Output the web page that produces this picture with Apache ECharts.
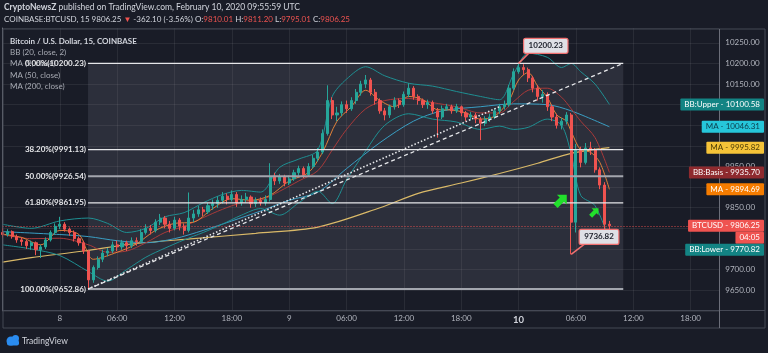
<!DOCTYPE html>
<html><head><meta charset="utf-8">
<script src="https://cdn.jsdelivr.net/npm/echarts@6/dist/echarts.min.js"></script>
<style>html,body{margin:0;padding:0;background:#191c27;}#c{width:768px;height:353px;}</style>
</head><body><div id="c"></div><script>
// ---------- DATA ----------
// 30-minute candles, [open, close, low, high]; slot 0 = Feb 7 18:00
const candles = [
[9790,9785,9778,9800],[9785,9792,9780,9798],[9792,9780,9775,9795],[9780,9772,9765,9785],[9772,9768,9758,9778],
[9768,9758,9750,9772],[9758,9765,9748,9770],[9765,9748,9735,9768],[9748,9755,9728,9760],[9755,9772,9750,9778],
[9772,9790,9768,9795],[9790,9805,9785,9812],[9805,9810,9798,9828],[9810,9798,9792,9815],[9798,9790,9782,9802],
[9790,9775,9768,9795],[9775,9765,9758,9780],[9765,9745,9738,9770],[9745,9675,9652.86,9748],[9675,9705,9668,9710],
[9705,9725,9700,9732],[9725,9740,9718,9748],[9740,9745,9732,9752],[9745,9760,9740,9768],[9760,9755,9745,9770],
[9755,9765,9748,9772],[9765,9758,9745,9770],[9758,9770,9752,9778],[9770,9768,9758,9778],[9768,9790,9765,9798],
[9790,9800,9785,9810],[9800,9795,9785,9808],[9795,9815,9790,9822],[9815,9825,9808,9835],[9825,9810,9800,9830],
[9810,9800,9790,9818],[9800,9820,9795,9828],[9820,9805,9795,9825],[9805,9795,9785,9812],[9795,9825,9790,9887],
[9825,9835,9815,9845],[9835,9845,9828,9855],[9845,9840,9830,9852],[9840,9855,9835,9862],[9855,9860,9845,9870],
[9860,9868,9850,9878],[9868,9878,9860,9888],[9878,9870,9858,9885],[9870,9882,9865,9892],[9882,9862,9852,9888],
[9862,9870,9855,9880],[9870,9876,9862,9886],[9876,9860,9850,9880],[9860,9868,9852,9875],[9868,9862,9855,9875],
[9862,9870,9855,9880],[9870,9925,9865,9958],[9925,9915,9905,9935],[9915,9925,9908,9932],[9925,9910,9902,9930],
[9910,9920,9905,9928],[9920,9935,9915,9942],[9935,9945,9928,9952],[9945,9930,9922,9950],[9930,9950,9925,9958],
[9950,9970,9945,9978],[9970,9985,9962,9995],[9985,10030,9980,10040],[10030,10110,10025,10147],[10110,10075,10065,10118],
[10075,10080,10060,10095],[10080,10100,10072,10108],[10100,10090,10080,10110],[10090,10110,10085,10118],[10110,10130,10102,10138],
[10130,10150,10122,10158],[10150,10160,10140,10172],[10160,10130,10122,10165],[10130,10110,10100,10138],[10110,10085,10078,10115],
[10085,10075,10062,10092],[10075,10095,10068,10100],[10095,10110,10088,10118],[10110,10100,10092,10115],[10100,10125,10095,10132],
[10125,10140,10118,10152],[10140,10120,10112,10145],[10120,10110,10100,10125],[10110,10100,10092,10115],[10100,10105,10090,10112],
[10105,10085,10078,10110],[10085,10070,10020,10092],[10070,10090,10065,10098],[10090,10095,10085,10102],[10095,10085,10078,10100],
[10085,10095,10080,10102],[10095,10080,10072,10098],[10080,10070,10060,10085],[10070,10075,10062,10082],[10075,10065,10055,10080],
[10065,10055,10014,10070],[10055,10065,10048,10072],[10065,10070,10058,10078],[10070,10085,10065,10092],[10085,10095,10078,10102],
[10095,10100,10088,10110],[10100,10140,10095,10148],[10140,10180,10135,10188],[10180,10190,10175,10200.23],[10190,10185,10172,10198],
[10185,10165,10155,10190],[10165,10140,10130,10170],[10140,10120,10110,10148],[10120,10125,10105,10135],[10125,10095,10085,10130],
[10095,10070,10060,10100],[10070,10050,10042,10078],[10050,10060,10040,10068],[10060,10075,10052,10082],[10075,9815,9736.82,10080],
[9815,9990,9790,10005],[9990,9960,9948,9998],[9960,9995,9955,10007],[9995,9990,9978,10010],[9990,9942,9935,9995],
[9942,9905,9895,9948],[9905,9810,9790,9912],[9810,9806.25,9795.01,9818]
];
// indicator readings [slot, value]
const bbUpper = [[0,9810],[6,9800],[12,9818],[18,9825],[22,9812],[26,9790],[30,9800],[34,9828],[38,9838],[42,9862],[46,9882],[50,9892],[54,9888],[58,9948],[62,9968],[66,9990],[69,10120],[72,10162],[76,10192],[80,10170],[85,10152],[90,10145],[95,10132],[100,10120],[104,10112],[107,10175],[110,10225],[114,10215],[117,10190],[119,10200],[121,10180],[124,10150],[127,10100.58]];
const bbBasis = [[0,9785],[6,9775],[12,9776],[18,9760],[22,9742],[26,9745],[30,9765],[34,9790],[38,9805],[42,9826],[46,9846],[50,9862],[54,9868],[58,9890],[62,9915],[66,9940],[69,9990],[72,10040],[76,10090],[80,10110],[85,10115],[90,10105],[95,10095],[100,10080],[104,10080],[107,10108],[110,10135],[114,10140],[117,10118],[119,10090],[121,10060],[124,10020],[127,9935.70]];
const bbLower = [[0,9760],[6,9750],[12,9734],[18,9695],[22,9672],[26,9700],[30,9730],[34,9752],[38,9772],[42,9790],[46,9810],[50,9832],[54,9848],[58,9832],[62,9862],[66,9890],[69,9860],[72,9918],[76,9988],[80,10050],[85,10078],[90,10065],[95,10058],[100,10040],[104,10048],[107,10040],[110,10045],[114,10065],[117,10050],[119,9980],[121,9880],[124,9855],[127,9770.82]];
const maFast = [[0,9786],[4,9778],[8,9760],[12,9795],[16,9785],[19,9725],[24,9742],[28,9762],[32,9795],[36,9812],[40,9815],[44,9848],[48,9872],[52,9868],[56,9880],[60,9915],[64,9935],[67,9985],[70,10060],[73,10095],[76,10135],[79,10110],[82,10095],[85,10120],[88,10112],[91,10088],[94,10087],[97,10080],[100,10065],[103,10072],[106,10110],[108,10160],[110,10178],[112,10145],[114,10118],[116,10075],[118,10060],[119,10035],[121,9990],[123,9985],[125,9960],[127,9894.69]];
const ma50 = [[0,9792],[12,9785],[18,9780],[24,9770],[30,9765],[36,9775],[42,9795],[48,9818],[54,9842],[60,9868],[66,9888],[72,9945],[79,10008],[86,10060],[92,10085],[100,10095],[107,10102],[114,10100],[119,10085],[127,10046.31]];
const ma200 = [[0,9718],[6,9729],[17,9745],[27,9762],[40,9775],[53,9788],[66,9803],[79,9850],[87,9885],[96,9910],[104,9933],[112,9958],[119,9982],[127,9995.82]];
const fibLevels = [['0.00%',10200.23],['38.20%',9991.13],['50.00%',9926.54],['61.80%',9861.95],['100.00%',9652.86]];
const fibSpan = [17.9, 129.9];
const trendDotted = [[17.9,9652.86],[104,10095]];
const trendDashed = [[17.9,9652.86],[129.9,10200.23]];
const highMark = [108, 10200.23];
const lowMark = [119, 9736.82];
const arrowMarks = [[116.9, 9868, 1], [123.9, 9839, 0.7]];
const tickLabels = ['8','06:00','12:00','18:00','9','06:00','12:00','18:00','10','06:00','12:00','18:00'];
const boldLabels = ['10'];
const slotCount = 151;
const lastPrice = 9806.25;
const priceTags = [
  {text:'BB:Upper - 10100.58', value:10100.58, bg:'#138484', fg:'#ffffff'},
  {text:'MA - 10046.31', value:10046.31, bg:'#26c6da', fg:'#0c3b4a'},
  {text:'MA - 9995.82', value:9995.82, bg:'#f5c338', fg:'#4a3a05'},
  {text:'BB:Basis - 9935.70', value:9935.70, bg:'#8e2a2e', fg:'#ffffff'},
  {text:'MA - 9894.69', value:9894.69, bg:'#f57c00', fg:'#ffffff'},
  {text:'BTCUSD - 9806.25', value:9806.25, bg:'#ef5350', fg:'#ffffff', sub:'04:05'},
  {text:'BB:Lower - 9770.82', value:9770.82, bg:'#138484', fg:'#ffffff'}
];
const legendLines = ['Bitcoin / U.S. Dollar, 15, COINBASE','BB (20, close, 2)','MA (9, close)','MA (50, close)','MA (200, close)'];

// ---------- CHART ----------
const FONT = 'Lato, "Open Sans", sans-serif';
const TXT = '#d1d4dc';
const cats = [];
for (let i = 0; i < slotCount; i++) cats.push(String(i));
const isTick = (idx) => idx >= 12 && idx % 12 === 0 && (idx - 12) / 12 < tickLabels.length;

const chart = echarts.init(document.getElementById('c'));
const lineS = (data, color, width, z, extra) => Object.assign({
  type:'line', xAxisIndex:1, yAxisIndex:0, data, showSymbol:false, symbol:'none', smooth:0.3,
  lineStyle:{color, width}, z, silent:true, animation:false
}, extra || {});

const series = [
  {type:'candlestick', xAxisIndex:0, yAxisIndex:0, data:candles, barWidth:2.6, z:5,
   itemStyle:{color:'#26a69a', color0:'#ef5350', borderColor:'#26a69a', borderColor0:'#ef5350', borderWidth:1},
   markLine:{symbol:'none', silent:true, label:{show:false}, animation:false,
     lineStyle:{color:'#ef5350', type:[1,2], width:1, opacity:0.9}, data:[{yAxis:lastPrice}]}},
  lineS(ma200, '#d9b968', 1.2, 3),
  lineS(ma50, '#3a9fc4', 1, 3),
  lineS(bbUpper, '#1f8f92', 1, 3),
  lineS(bbLower, '#1f8f92', 1, 3),
  lineS(bbBasis, '#a83a3a', 1, 3),
  lineS(maFast, '#e0813a', 1, 4),
];
fibLevels.forEach((f, k) => {
  const gray = (f[0] === '50.00%' || f[0] === '100.00%');
  const s = lineS([[fibSpan[0], f[1]], [fibSpan[1], f[1]]], gray ? '#a3a6ae' : '#e6e7ea', gray ? 2 : 1.3, 6, {smooth:false});
  if (k === 0) {
    s.markArea = {silent:true, itemStyle:{color:'rgba(140,144,158,0.17)'},
      data:[[{coord:[fibSpan[0], fibLevels[4][1]]},{coord:[fibSpan[1], fibLevels[0][1]]}]]};
    s.z = 6;
  }
  series.push(s);
});
series.push(lineS(trendDashed, '#e6e7ea', 1.3, 7, {smooth:false, lineStyle:{color:'#e6e7ea', width:1.3, type:[4,3]}}));
series.push(lineS(trendDotted, '#e6e7ea', 1.6, 7, {smooth:false, lineStyle:{color:'#e6e7ea', width:1.6, type:[1.5,2]}}));

chart.setOption({
  animation:false,
  backgroundColor:'#191c27',
  grid:{left:2.5, top:28, width:716.8, height:282.8, containLabel:false},
  xAxis:[
    {type:'category', data:cats, boundaryGap:false,
     axisLine:{show:false}, axisTick:{show:false},
     axisLabel:{interval:(i)=>isTick(i), color:'#b2b5be', fontSize:8, fontFamily:FONT, margin:4,
       formatter:(v)=>{ const idx = Number(v); const t = tickLabels[(idx-12)/12]; return boldLabels.includes(t) ? '{d|'+t+'}' : t; },
       rich:{d:{fontSize:9.5, fontWeight:'bold', color:'#d1d4dc', fontFamily:FONT}}},
     splitLine:{show:true, interval:(i)=>isTick(i), lineStyle:{color:'rgba(255,255,255,0.07)', width:1}}},
    {type:'value', min:0, max:slotCount-1, show:false}
  ],
  yAxis:[{type:'value', position:'right', min:9600, max:10286, interval:50, scale:false,
    axisLine:{show:true, lineStyle:{color:'#6b6e79'}}, axisTick:{show:false},
    axisLabel:{color:'#b2b5be', fontSize:8, fontFamily:FONT, margin:6, showMinLabel:false, showMaxLabel:false,
      formatter:(v)=>v.toFixed(2)},
    splitLine:{lineStyle:{color:'rgba(255,255,255,0.07)'}}}],
  series
});

// ---------- ANNOTATIONS (positioned through the chart's own scales) ----------
const px = (x, v) => chart.convertToPixel({xAxisIndex:1, yAxisIndex:0}, [x, v]);
const mctx = document.createElement('canvas').getContext('2d');
const tw = (t, f) => { mctx.font = f; return mctx.measureText(t).width; };
const g = [];
const F8 = '8px ' + FONT;
const F8B = 'bold 8px ' + FONT;

// frame
g.push({type:'rect', shape:{x:3, y:29, width:762, height:299}, style:{fill:null, stroke:'#454955', lineWidth:1}, z:50});
g.push({type:'line', shape:{x1:3, y1:310.5, x2:765, y2:310.5}, style:{stroke:'#454955', lineWidth:1}, z:50});
g.push({type:'line', shape:{x1:719.5, y1:29, x2:719.5, y2:328}, style:{stroke:'#6b6e79', lineWidth:1}, z:50});

// header
g.push({type:'text', x:4, y:7, style:{text:'{b|CryptoNewsZ} {w|published on TradingView.com, February 10, 2020 09:55:59 UTC}',
  textVerticalAlign:'middle', font:'8.5px '+FONT,
  rich:{b:{fill:TXT, font:'bold 8.5px '+FONT}, w:{fill:TXT, font:'8.5px '+FONT}}}, z:60});
g.push({type:'text', x:4, y:19, style:{text:'{w|COINBASE:BTCUSD, 15 9806.25 }{r|▼}{w| -362.10 (-3.56%) O:}{r|9810.01}{w| H:}{r|9811.20}{w| L:}{r|9795.01}{w| C:}{r|9806.25}',
  textVerticalAlign:'middle', font:'8px '+FONT,
  rich:{w:{fill:TXT, font:'8px '+FONT}, r:{fill:'#ef5350', font:'8px '+FONT}}}, z:60});

// pane legend
legendLines.forEach((t, k) => {
  g.push({type:'text', x:10, y:41 + k*11.4, style:{text:t, fill: k===0 ? '#d1d4dc' : '#a9acb5', font:(k===0?'bold ':'')+'8px '+FONT, textVerticalAlign:'middle'}, z:60});
});

// fib labels
fibLevels.forEach((f) => {
  const p = px(fibSpan[0], f[1]);
  g.push({type:'text', x:p[0]-2, y:p[1], style:{text:f[0]+'('+f[1].toFixed(2)+')', fill:'#e6e7ea', font:F8B, textAlign:'right', textVerticalAlign:'middle'}, z:61});
});

// callouts
function callout(pt, dx, dy, label) {
  const p = px(pt[0], pt[1]);
  const w = tw(label, F8B) + 10, h = 15;
  const bx = p[0] + dx, by = p[1] + dy;
  g.push({type:'line', shape:{x1:p[0], y1:p[1], x2:bx+5, y2:by+h}, style:{stroke:'#f07070', lineWidth:1.5}, z:62});
  g.push({type:'rect', shape:{x:bx, y:by, width:w, height:h, r:2}, style:{fill:'#dfe0e6', stroke:'#f07070', lineWidth:1.2}, z:62});
  g.push({type:'text', x:bx+w/2, y:by+h/2, style:{text:label, fill:'#1c1f2a', font:F8B, textAlign:'center', textVerticalAlign:'middle'}, z:63});
}
callout(highMark, 5, -25, highMark[1].toFixed(2));
callout(lowMark, 8, -25, lowMark[1].toFixed(2));

// green arrows
arrowMarks.forEach(a => {
  const p = px(a[0], a[1]);
  const s = a[2];
  const pts = [[0,-8],[7,-1],[3,-1],[3,8],[-3,8],[-3,-1],[-7,-1]].map(q => [q[0]*s, q[1]*s]);
  g.push({type:'polygon', x:p[0], y:p[1], rotation:-Math.PI/4, shape:{points:pts}, style:{fill:'#22e02c'}, z:64});
});

// price tags
let lastBottom = -1e9;
const tagH = 12, tagRight = 764;
priceTags.forEach(t => {
  let cy = px(0, t.value)[1];
  if (cy - tagH/2 < lastBottom) cy = lastBottom + tagH/2;
  const w = tw(t.text, F8) + 8;
  g.push({type:'rect', shape:{x:tagRight-w, y:cy-tagH/2, width:w, height:tagH, r:1}, style:{fill:t.bg}, z:70});
  g.push({type:'text', x:tagRight-4, y:cy, style:{text:t.text, fill:t.fg, font:F8, textAlign:'right', textVerticalAlign:'middle'}, z:71});
  lastBottom = cy + tagH/2;
  if (t.sub) {
    const cy2 = lastBottom + tagH/2;
    const w2 = tw(t.sub, F8) + 8;
    g.push({type:'rect', shape:{x:tagRight-w2, y:cy2-tagH/2, width:w2, height:tagH, r:1}, style:{fill:t.bg}, z:70});
    g.push({type:'text', x:tagRight-4, y:cy2, style:{text:t.sub, fill:t.fg, font:F8, textAlign:'right', textVerticalAlign:'middle'}, z:71});
    lastBottom = cy2 + tagH/2;
  }
});

// TradingView footer
g.push({type:'circle', shape:{cx:11, cy:341, r:4.5}, style:{fill:'#2a8cf0'}, z:60});
g.push({type:'circle', shape:{cx:15.5, cy:338.5, r:3.5}, style:{fill:'#2a8cf0'}, z:60});
g.push({type:'rect', shape:{x:7, y:340, width:12, height:5.5, r:2}, style:{fill:'#2a8cf0'}, z:60});
g.push({type:'text', x:22, y:341, style:{text:'TradingView', fill:TXT, font:'8.5px '+FONT, textVerticalAlign:'middle'}, z:60});

chart.setOption({graphic:{elements:g}});
</script></body></html>
